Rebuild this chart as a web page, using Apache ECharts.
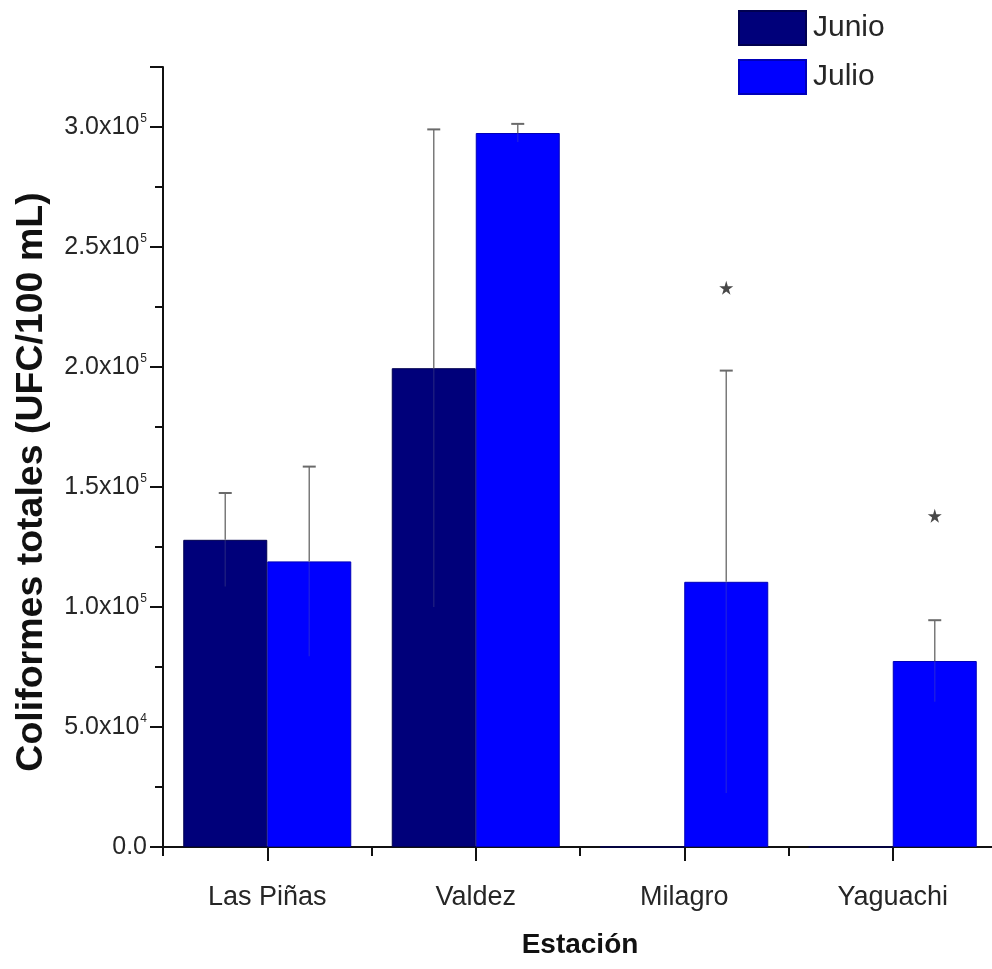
<!DOCTYPE html>
<html>
<head>
<meta charset="utf-8">
<script src="https://cdn.jsdelivr.net/npm/echarts@6/dist/echarts.min.js"></script>
<style>
  html, body { margin: 0; padding: 0; background: #fff; }
  #chart { width: 992px; height: 969px; }
</style>
</head>
<body>
<div id="chart"></div>
<script>
// ---- data ----
const categories = ['Las Piñas', 'Valdez', 'Milagro', 'Yaguachi'];
const seriesNames = ['Junio', 'Julio'];
const junio = [128000, 199500, 0, 0];
const julio = [119000, 297500, 110500, 77500];
const errJunio = [19500, 99500, 0, 0];
const errJulio = [39500, 3800, 88000, 17000];
const starsJulio = [null, null, 233000, 138000];
const yMin = 0, yMax = 325000, yInterval = 50000;

// ---- style ----
const FONT = 'Arial, "Liberation Sans", sans-serif';
const TXT = '#262626';
const C_JUNIO = '#00007a';
const C_JULIO = '#0000ff';
const BAR_W = 84;
const CAP = 13;

function sciLabel(v) {
  if (v % yInterval !== 0) return '';
  if (v === 0) return '{m|0.0}';
  const e = Math.floor(Math.log10(v));
  const m = (v / Math.pow(10, e)).toFixed(1);
  return '{m|' + m + 'x10}{s|' + e + '}';
}

function errRender(sign) {
  return function (params, api) {
    const i = api.value(0), v = api.value(1), e = api.value(2);
    if (!e) return null;
    const top = api.coord([i, v + e]);
    const mid = api.coord([i, v]);
    const bot = api.coord([i, Math.max(0, v - e)]);
    const x = mid[0] + sign * BAR_W / 2;
    return {
      type: 'group',
      children: [
        { type: 'line', shape: { x1: x, y1: bot[1], x2: x, y2: mid[1] },
          style: { stroke: 'rgba(120,120,140,0.22)', lineWidth: 1.5 } },
        { type: 'line', shape: { x1: x, y1: mid[1], x2: x, y2: top[1] },
          style: { stroke: '#7a7a7a', lineWidth: 1.5 } },
        { type: 'line', shape: { x1: x - CAP / 2, y1: top[1], x2: x + CAP / 2, y2: top[1] },
          style: { stroke: '#6a6a6a', lineWidth: 2 } }
      ]
    };
  };
}

const chart = echarts.init(document.getElementById('chart'), null, { renderer: 'canvas' });
const STAR = 'path://M50,0 L61,35 L98,35 L68,57 L79,92 L50,70 L21,92 L32,57 L2,35 L39,35 Z';

chart.setOption({
  backgroundColor: '#ffffff',
  animation: false,
  textStyle: { fontFamily: FONT },
  legend: {
    data: seriesNames,
    orient: 'vertical',
    left: 738,
    top: 10,
    padding: 0,
    icon: 'rect',
    itemWidth: 67,
    itemHeight: 34,
    itemGap: 13,
    textStyle: { fontFamily: FONT, fontSize: 30, color: TXT, padding: [4, 0, 0, 2] }
  },
  grid: { left: 163, right: -5, top: 67, bottom: 122, containLabel: false, outerBoundsMode: 'none' },
  xAxis: [
    {
      type: 'category',
      data: categories,
      position: 'bottom',
      axisLine: { show: true, onZero: false, lineStyle: { color: '#111', width: 2 } },
      axisTick: { show: true, alignWithLabel: true, length: 14, lineStyle: { color: '#111', width: 2 } },
      axisLabel: { fontFamily: FONT, fontSize: 27, color: TXT, margin: 37 },
      name: 'Estación',
      nameLocation: 'middle',
      nameGap: 84,
      nameTextStyle: { fontFamily: FONT, fontSize: 28, fontWeight: 'bold', color: '#111' }
    },
    {
      type: 'category',
      data: categories,
      position: 'bottom',
      axisLine: { show: false, onZero: false },
      axisTick: { show: true, alignWithLabel: false, length: 9, lineStyle: { color: '#111', width: 2 } },
      axisLabel: { show: false }
    }
  ],
  yAxis: {
    type: 'value',
    min: yMin,
    max: yMax,
    interval: yInterval,
    splitLine: { show: false },
    axisLine: { show: true, lineStyle: { color: '#111', width: 2 } },
    axisTick: { show: true, length: 13, lineStyle: { color: '#111', width: 2 } },
    minorTick: { show: true, splitNumber: 2, length: 8, lineStyle: { color: '#111', width: 2 } },
    axisLabel: {
      margin: 16,
      formatter: sciLabel,
      rich: {
        m: { fontFamily: FONT, fontSize: 25, color: TXT, lineHeight: 28 },
        s: { fontFamily: FONT, fontSize: 12, color: TXT, verticalAlign: 'top', lineHeight: 28, padding: [0, 0, 11, 1] }
      }
    },
    name: 'Coliformes totales (UFC/100 mL)',
    nameLocation: 'middle',
    nameRotate: 90,
    nameGap: 112,
    nameTextStyle: { fontFamily: FONT, fontSize: 37.5, fontWeight: 'bold', color: '#111', padding: [0, 50, 0, 0] }
  },
  series: [
    {
      name: 'Junio',
      type: 'bar',
      data: junio,
      barWidth: BAR_W,
      barGap: '0%',
      itemStyle: { color: C_JUNIO, borderColor: '#000050', borderWidth: 1 },
      z: 2
    },
    {
      name: 'Julio',
      type: 'bar',
      data: julio,
      barWidth: BAR_W,
      barGap: '0%',
      itemStyle: { color: C_JULIO, borderColor: '#0000b8', borderWidth: 1 },
      z: 2
    },
    {
      name: 'errJunio',
      type: 'custom',
      renderItem: errRender(-1),
      data: junio.map((v, i) => [i, v, errJunio[i]]),
      z: 5,
      silent: true
    },
    {
      name: 'errJulio',
      type: 'custom',
      renderItem: errRender(1),
      data: julio.map((v, i) => [i, v, errJulio[i]]),
      z: 5,
      silent: true
    },
    {
      name: 'stars',
      type: 'scatter',
      data: starsJulio.map((v, i) => (v == null ? null : [i, v])).filter(d => d),
      symbol: STAR,
      symbolSize: 14,
      symbolOffset: [BAR_W / 2, 0],
      itemStyle: { color: '#1a1a1a' },
      z: 6,
      silent: true
    }
  ]
});
</script>
</body>
</html>
